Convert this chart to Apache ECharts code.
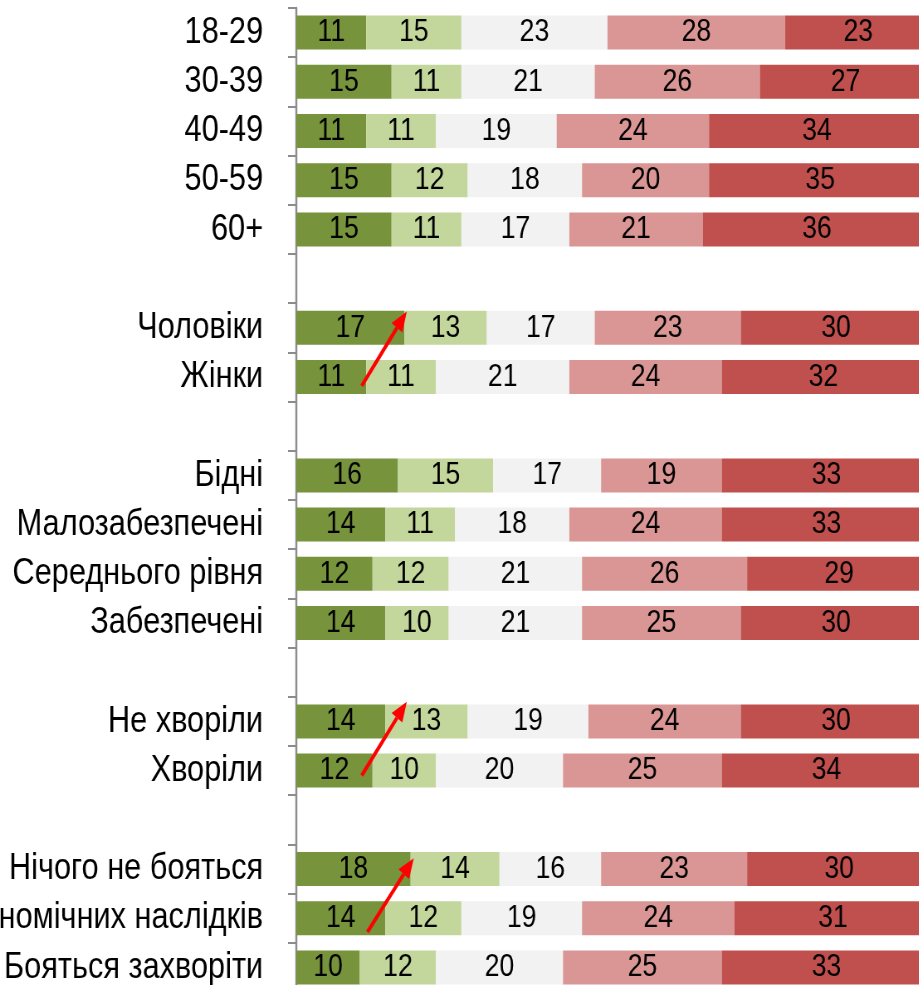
<!DOCTYPE html>
<html>
<head>
<meta charset="utf-8">
<script src="https://cdn.jsdelivr.net/npm/echarts@6/dist/echarts.min.js"></script>
<style>
  html, body { margin: 0; padding: 0; background: #fff; overflow: hidden; }
  /* оригінал стиснутий по горизонталі (вузький шрифт), тому стискаємо весь графік */
  #chart { width: 1107px; height: 985px; transform: scaleX(0.83); transform-origin: 0 0; }
</style>
</head>
<body>
<div id="chart"></div>
<script>
  // рядки зверху вниз, порожні - розділювачі груп
  const categories = [
    '18-29', '30-39', '40-49', '50-59', '60+', '',
    'Чоловіки', 'Жінки', '',
    'Бідні', 'Малозабезпечені', 'Середнього рівня', 'Забезпечені', '',
    'Не хворіли', 'Хворіли', '',
    'Нічого не бояться', 'Бояться економічних наслідків', 'Бояться захворіти'
  ];
  const s1 = [11, 15, 11, 15, 15, null, 17, 11, null, 16, 14, 12, 14, null, 14, 12, null, 18, 14, 10];
  const s2 = [15, 11, 11, 12, 11, null, 13, 11, null, 15, 11, 12, 10, null, 13, 10, null, 14, 12, 12];
  const s3 = [23, 21, 19, 18, 17, null, 17, 21, null, 17, 18, 21, 21, null, 19, 20, null, 16, 19, 20];
  const s4 = [28, 26, 24, 20, 21, null, 23, 24, null, 19, 24, 26, 25, null, 24, 25, null, 23, 24, 25];
  const s5 = [23, 27, 34, 35, 36, null, 30, 32, null, 33, 33, 29, 30, null, 30, 34, null, 30, 31, 33];

  // стрілки: [x, індекс рядка] хвіст -> голова
  const arrows = [
    { from: [10.3, 7.18], to: [17.4, 5.67] },
    { from: [10.3, 15.1], to: [17.4, 13.6] },
    { from: [11.2, 18.28], to: [18.5, 16.78] }
  ];

  const colors = ['#77933C', '#C3D69B', '#F2F2F2', '#D99694', '#C0504D'];
  const font = "'Liberation Sans', Arial, sans-serif";

  function mkSeries(data, i) {
    return {
      type: 'bar',
      stack: 'all',
      barWidth: 34,
      data: data,
      itemStyle: { color: colors[i] },
      label: {
        show: true,
        position: 'inside',
        color: '#000',
        fontFamily: font,
        fontSize: 32,
        formatter: p => p.value == null ? '' : p.value
      },
      silent: true,
      animation: false
    };
  }

  const chart = echarts.init(document.getElementById('chart'));
  chart.setOption({
    animation: false,
    grid: { left: 357, right: -15, top: 8, bottom: -7, outerBoundsMode: 'none', containLabel: false },
    xAxis: {
      type: 'value', min: 0, max: 100,
      show: false
    },
    yAxis: {
      type: 'category',
      inverse: true,
      data: categories,
      axisLine: { show: true, lineStyle: { color: '#8C8C8C', width: 2.4 } },
      axisTick: { show: true, length: 10, lineStyle: { color: '#8C8C8C', width: 2 } },
      axisLabel: { color: '#000', fontFamily: font, fontSize: 37, margin: 40 }
    },
    series: [s1, s2, s3, s4, s5].map(mkSeries)
  });

  // малюємо стрілки через перетворення координат осей
  function toPx(pt) {
    const i0 = Math.floor(pt[1]);
    const a = chart.convertToPixel({ gridIndex: 0 }, [pt[0], i0]);
    const b = chart.convertToPixel({ gridIndex: 0 }, [pt[0], i0 + 1]);
    const f = pt[1] - i0;
    return [a[0], a[1] + (b[1] - a[1]) * f];
  }
  const g = [];
  arrows.forEach(ar => {
    const p0 = toPx(ar.from), p1 = toPx(ar.to);
    const dx = p1[0] - p0[0], dy = p1[1] - p0[1];
    const len = Math.sqrt(dx * dx + dy * dy);
    const ux = dx / len, uy = dy / len;
    const hl = 20, hw = 8;
    const bx = p1[0] - ux * hl, by = p1[1] - uy * hl;
    g.push({
      type: 'line', silent: true, z: 100,
      shape: { x1: p0[0], y1: p0[1], x2: bx, y2: by },
      style: { stroke: '#FF0000', lineWidth: 4 }
    });
    g.push({
      type: 'polygon', silent: true, z: 100,
      shape: { points: [p1, [bx - uy * hw, by + ux * hw], [bx + uy * hw, by - ux * hw]] },
      style: { fill: '#FF0000' }
    });
  });
  chart.setOption({ graphic: g });
</script>
</body>
</html>
